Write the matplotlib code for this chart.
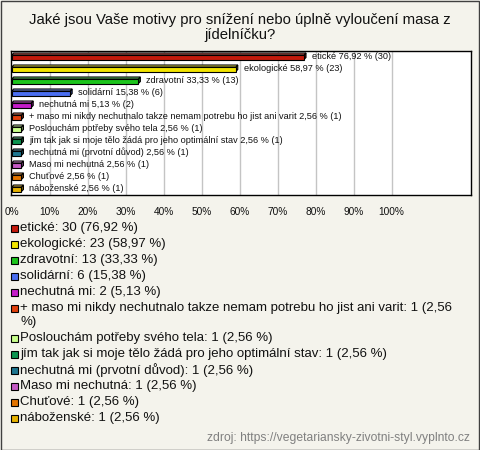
import matplotlib
matplotlib.use("Agg")
import matplotlib.pyplot as plt
import matplotlib.colors as mc
from matplotlib.patches import Polygon, Rectangle

categories = [
    "etické", "ekologické", "zdravotní", "solidární", "nechutná mi",
    "+ maso mi nikdy nechutnalo takze nemam potrebu ho jist ani varit",
    "Poslouchám potřeby svého tela",
    "jím tak jak si moje tělo žádá pro jeho optimální stav",
    "nechutná mi (prvotní důvod)", "Maso mi nechutná", "Chuťové", "náboženské",
]
counts = [30, 23, 13, 6, 2, 1, 1, 1, 1, 1, 1, 1]
percents = [76.92, 58.97, 33.33, 15.38, 5.13, 2.56, 2.56, 2.56, 2.56, 2.56, 2.56, 2.56]
colors = ["#c41a0c", "#f2e400", "#1cc41c", "#4a6ef0", "#c41cc8", "#e0400c",
          "#c8ff8c", "#0c9450", "#1e7690", "#c45ac4", "#e27400", "#e6b200"]
ticks = list(range(0, 101, 10))
tick_labels = [f"{t}%" for t in ticks]

FONT = "Liberation Sans"
plt.rcParams["font.family"] = [FONT, "DejaVu Sans"]
BG = "#f4f3ec"

W, H = 480, 450
fig = plt.figure(figsize=(4.8, 4.5), dpi=100, facecolor=BG)

# outer border
fig.patches.append(Rectangle((0.5 / W, 0.5 / H), (W - 1.5) / W, (H - 1.5) / H,
                             transform=fig.transFigure, fill=False,
                             edgecolor="#404040", lw=1.0))

# title
fig.text(0.5, 1 - 20 / H, "Jaké jsou Vaše motivy pro snížení nebo úplně vyloučení masa z",
         ha="center", va="center", fontsize=10.7, color="#111111")
fig.text(0.5, 1 - 35 / H, "jídelníčku?", ha="center", va="center", fontsize=10.7, color="#111111")

# axes
ax_l, ax_r, ax_t, ax_b = 10.5, 470.5, 50.5, 194.5
ax = fig.add_axes([ax_l / W, 1 - ax_b / H, (ax_r - ax_l) / W, (ax_b - ax_t) / H])
ax.set_facecolor("white")
px_per_pct = 3.8
x0_px = 11.7
xmin = -(x0_px - ax_l) / px_per_pct
xmax = xmin + (ax_r - ax_l) / px_per_pct
ax.set_xlim(xmin, xmax)
n = len(categories)
ax.set_ylim(n - 0.5, -0.5)
for s in ax.spines.values():
    s.set_color("black")
    s.set_linewidth(1.0)
ax.set_yticks([])
ax.set_xticks(ticks)
ax.set_xticklabels(tick_labels, fontsize=7.3, color="#111111")
ax.tick_params(axis="x", length=0, pad=9)
for t in ticks[1:]:
    ax.axvline(t, color="#c4c4c4", lw=1.0, zorder=0)

dx = 2 / px_per_pct        # 2 px in data units
pyu = 1 / 12               # 1 px in row units


def darker(c, f=0.6):
    r, g, b = mc.to_rgb(c)
    return (r * f, g * f, b * f)


def lighter(c, f=0.35):
    r, g, b = mc.to_rgb(c)
    return (r + (1 - r) * f, g + (1 - g) * f, b + (1 - b) * f)


for i, (p, c) in enumerate(zip(percents, colors)):
    top = i - 1.5 * pyu
    bot = i + 3 * pyu
    up = 2 * pyu
    ax.add_patch(Polygon([(p, top), (p + dx, top - up), (p + dx, bot - up), (p, bot)],
                         closed=True, facecolor=darker(c), edgecolor="black", lw=0.8, zorder=3))
    ax.add_patch(Polygon([(0, top), (dx, top - up), (p + dx, top - up), (p, top)],
                         closed=True, facecolor=lighter(c), edgecolor="black", lw=0.8, zorder=3))
    ax.add_patch(Rectangle((0, top), p, bot - top, facecolor=c, edgecolor="black",
                           lw=0.8, zorder=4))
    ax.text(p + 8 / px_per_pct, i,
            f"{categories[i]} {percents[i]:.2f}".replace(".", ",") + f" % ({counts[i]})",
            fontsize=6.6, va="center", ha="left", color="#111111", zorder=5)

# legend
y = 228
for cat, cnt, pc, col in zip(categories, counts, percents, colors):
    txt = f"{cat}: {cnt} ({pc:.2f}".replace(".", ",") + " %)"
    fig.patches.append(Rectangle((10.5 / W, 1 - (y + 4) / H), 7 / W, 7 / H,
                                 transform=fig.transFigure, facecolor=col,
                                 edgecolor="black", lw=0.8))
    if len(txt) > 70:
        first, second = txt.rsplit(" ", 1)
        fig.text(20.5 / W, 1 - y / H, first, fontsize=9.5, va="center", ha="left", color="#111111")
        y += 14
        fig.text(20.5 / W, 1 - y / H, second, fontsize=9.5, va="center", ha="left", color="#111111")
    else:
        fig.text(20.5 / W, 1 - y / H, txt, fontsize=9.5, va="center", ha="left", color="#111111")
    y += 16

fig.text(470 / W, 1 - 438 / H, "zdroj: https://vegetariansky-zivotni-styl.vyplnto.cz",
         fontsize=8.7, ha="right", va="center", color="#808080")

fig.savefig("out.png", dpi=100, facecolor=BG)
